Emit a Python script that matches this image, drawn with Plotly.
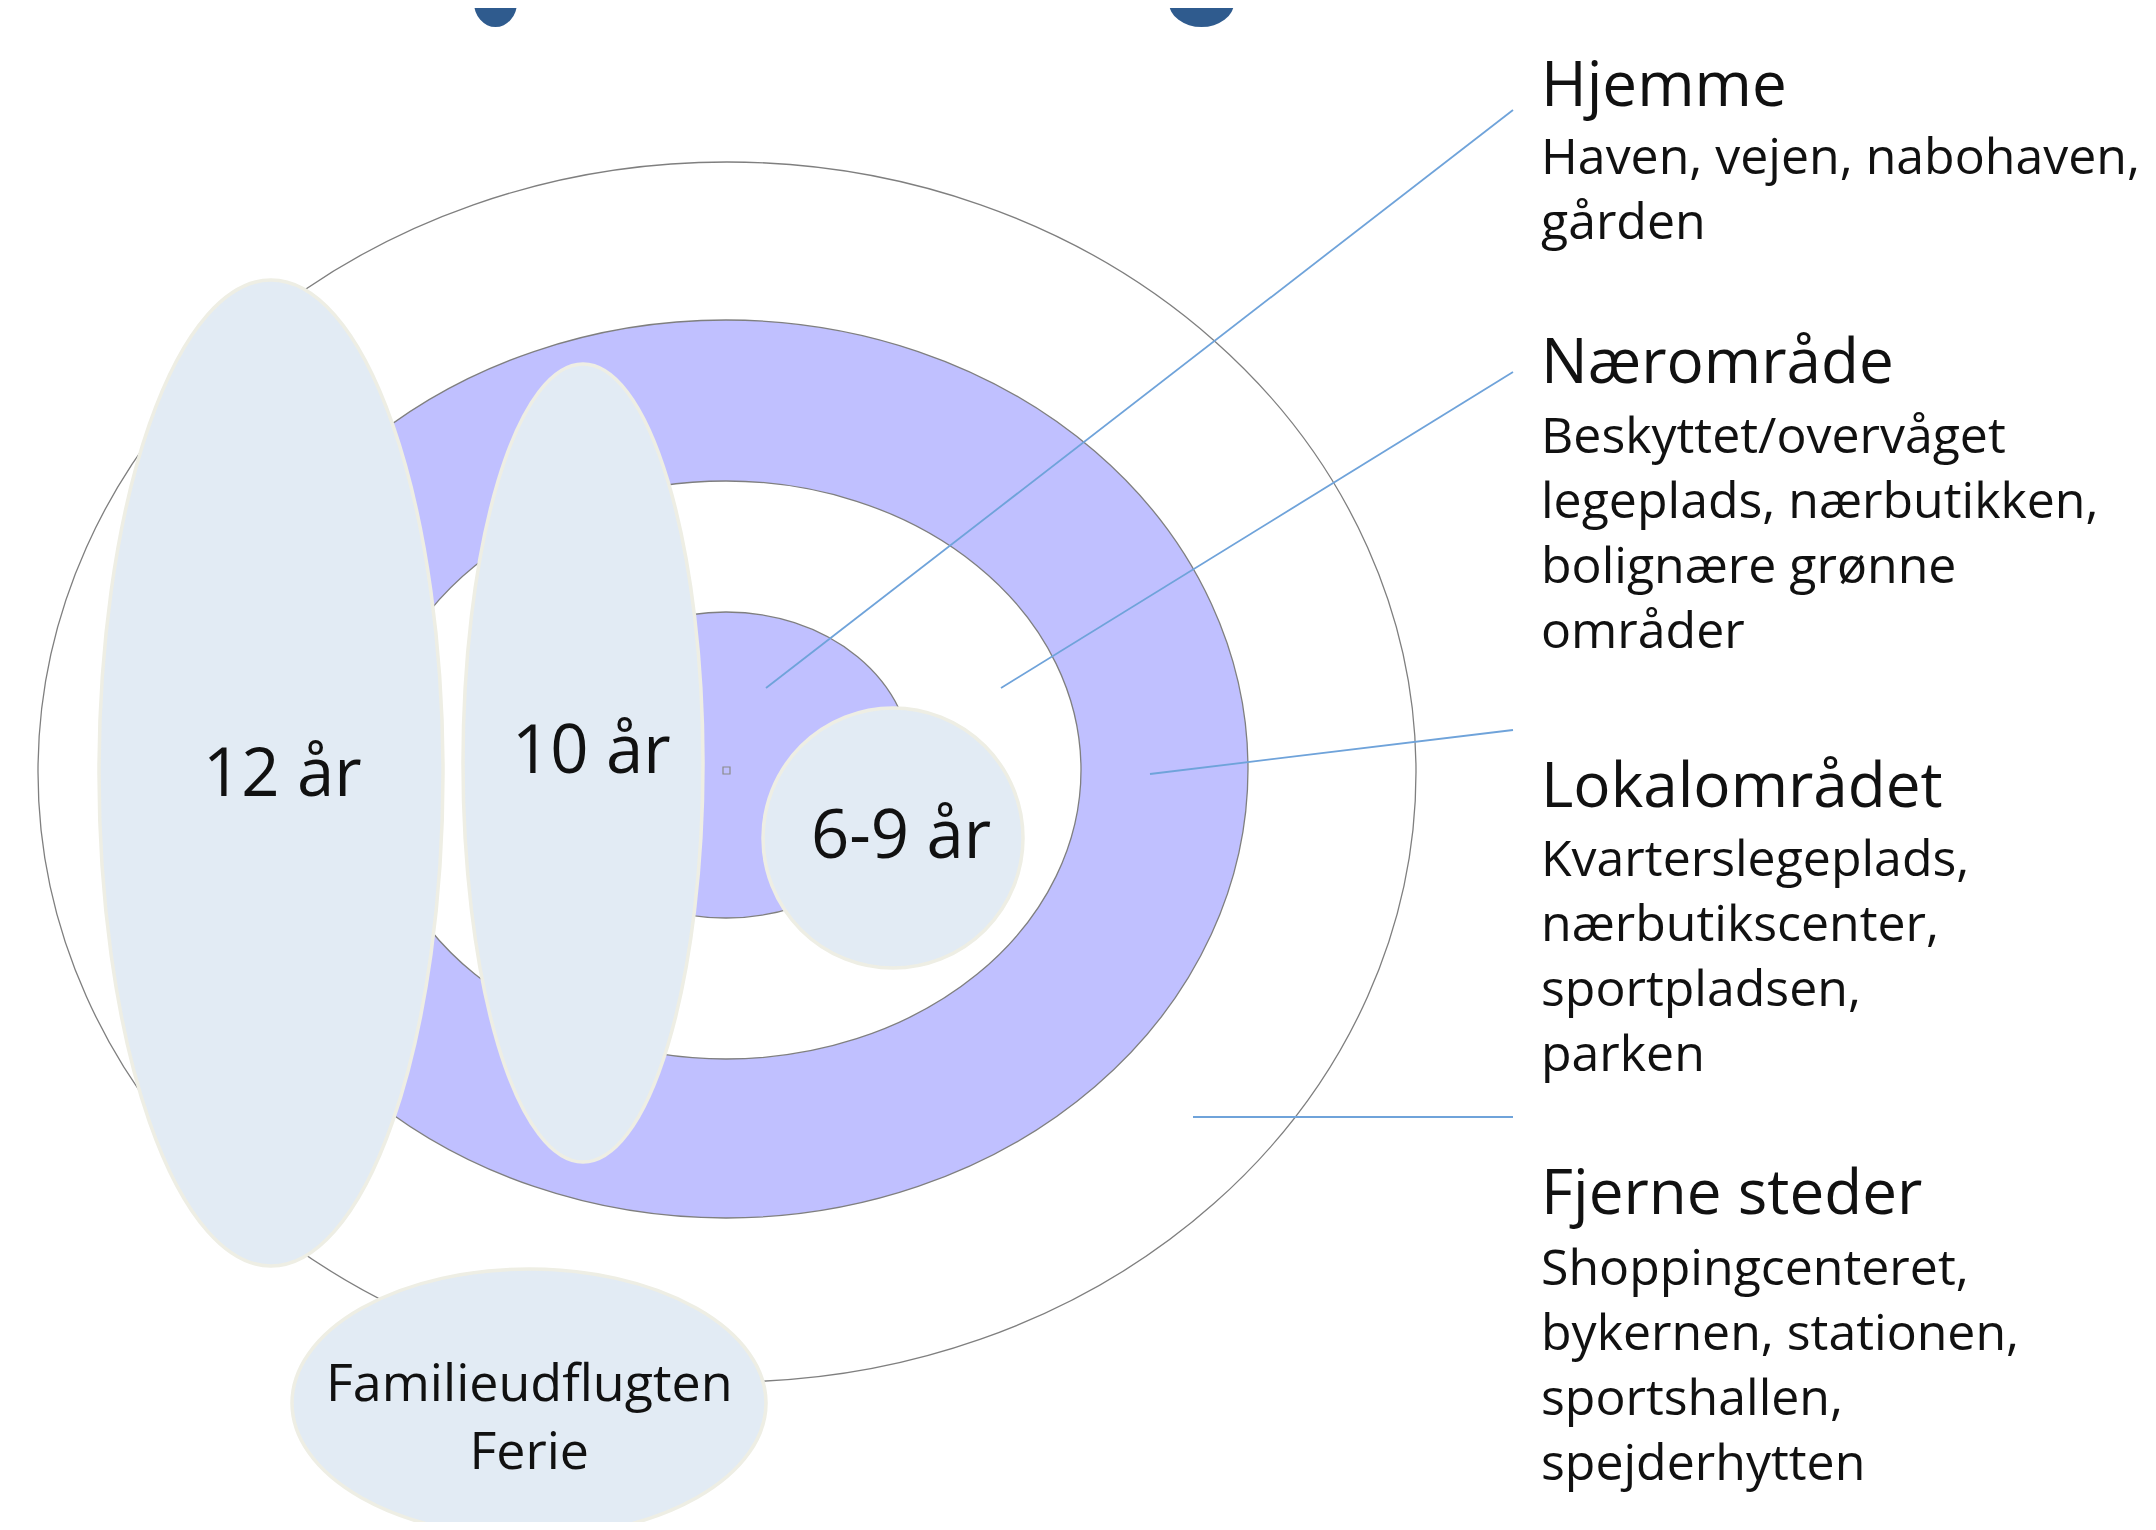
import plotly.graph_objects as go

W, H = 2156, 1530
PAGE_MARGIN = 8  # default body margin of the html page

# ---- Zones (concentric rings): centre, radii (page pixels) ----
zone_names = ["Fjerne steder", "Lokalområdet (ring)", "Nærområde (hul)", "Hjemme"]
zone_cx = [727, 726, 726, 726]
zone_cy = [772, 769, 770, 765]
zone_rx = [689, 522, 355, 186]
zone_ry = [610, 449, 289, 153]
zone_fill = ["rgba(0,0,0,0)", "#C0C0FF", "#FFFFFF", "#C0C0FF"]

# ---- Age bubbles ----
age_labels = ["12 år", "10 år", "6-9 år", "Familieudflugten<br>Ferie"]
age_cx = [271, 583, 893, 529]
age_cy = [773, 763, 838, 1403]
age_rx = [172, 120, 130, 237]
age_ry = [493, 399, 130, 134]
age_label_x = [282, 591, 901, 529]
age_label_y = [770, 747, 832, 1414]
age_font = [67, 67, 67, 52]

# ---- Legend texts on the right ----
headings = ["Hjemme", "Nærområde", "Lokalområdet", "Fjerne steder"]
heading_y = [82, 359, 783, 1190]
bodies = [
    ["Haven, vejen, nabohaven,", "gården"],
    ["Beskyttet/overvåget", "legeplads, nærbutikken,", "bolignære grønne", "områder"],
    ["Kvarterslegeplads,", "nærbutikscenter,", "sportpladsen,", "parken"],
    ["Shoppingcenteret,", "bykernen, stationen,", "sportshallen,", "spejderhytten"],
]
body_first_y = [155, 434, 857, 1266]

# ---- Callout lines: from point in diagram to text ----
callout_x0 = [766, 1001, 1150, 1193]
callout_y0 = [688, 688, 774, 1117]
callout_x1 = [1513, 1513, 1513, 1513]
callout_y1 = [110, 372, 730, 1117]

# title fragments (descenders of cut-off title)
frag_x0 = [474, 1169]
frag_x1 = [517, 1234]

FONT = "Open Sans"
shapes = []

def ell(cx, cy, rx, ry, fill, line_color, line_width):
    return dict(type="circle", xref="x", yref="y",
                x0=cx - rx, x1=cx + rx, y0=cy - ry, y1=cy + ry,
                fillcolor=fill, line=dict(color=line_color, width=line_width),
                layer="above")

for i in range(len(zone_names)):
    shapes.append(ell(zone_cx[i], zone_cy[i], zone_rx[i], zone_ry[i],
                      zone_fill[i], "#7F7F7F", 1.3))

# centre marker
shapes.append(dict(type="rect", xref="x", yref="y", x0=723, x1=730, y0=767, y1=774,
                   fillcolor="rgba(0,0,0,0)", line=dict(color="#8A8A8A", width=1.2)))

for i in range(len(callout_x0)):
    shapes.append(dict(type="line", xref="x", yref="y",
                       x0=callout_x0[i], y0=callout_y0[i], x1=callout_x1[i], y1=callout_y1[i],
                       line=dict(color="#6FA3DA", width=1.8)))

for i in range(len(age_labels)):
    shapes.append(ell(age_cx[i], age_cy[i], age_rx[i], age_ry[i],
                      "#E2EBF4", "#EEEEE4", 3.5))

for i in range(len(frag_x0)):
    shapes.append(dict(type="circle", xref="x", yref="y", x0=frag_x0[i], x1=frag_x1[i],
                       y0=-22, y1=27, fillcolor="#2F5B8E", line=dict(width=0)))

annotations = []
for i, t in enumerate(age_labels):
    annotations.append(dict(x=age_label_x[i], y=age_label_y[i], xref="x", yref="y",
                            text=t, showarrow=False, xanchor="center", yanchor="middle",
                            font=dict(family=FONT, size=age_font[i], color="#111111")))

TX = 1539
for i, h in enumerate(headings):
    annotations.append(dict(x=TX, y=heading_y[i], xref="x", yref="y", text=h,
                            showarrow=False, xanchor="left", yanchor="middle",
                            font=dict(family=FONT, size=62, color="#111111")))
    for j, line in enumerate(bodies[i]):
        annotations.append(dict(x=TX, y=body_first_y[i] + 65 * j, xref="x", yref="y",
                                text=line, showarrow=False, xanchor="left", yanchor="middle",
                                font=dict(family=FONT, size=50, color="#111111")))

FW, FH = W - 2 * PAGE_MARGIN, H - 2 * PAGE_MARGIN
fig = go.Figure()
fig.add_trace(go.Scatter(x=[PAGE_MARGIN, W - PAGE_MARGIN], y=[PAGE_MARGIN, H - PAGE_MARGIN],
                         mode="markers", marker=dict(opacity=0), hoverinfo="skip",
                         showlegend=False))
fig.update_layout(
    width=FW, height=FH, margin=dict(l=0, r=0, t=0, b=0),
    paper_bgcolor="white", plot_bgcolor="white",
    xaxis=dict(range=[PAGE_MARGIN, PAGE_MARGIN + FW], visible=False, fixedrange=True),
    yaxis=dict(range=[PAGE_MARGIN + FH, PAGE_MARGIN], visible=False, fixedrange=True),
    shapes=shapes, annotations=annotations, showlegend=False,
)
fig.write_html("out.html", config={"displayModeBar": False})
